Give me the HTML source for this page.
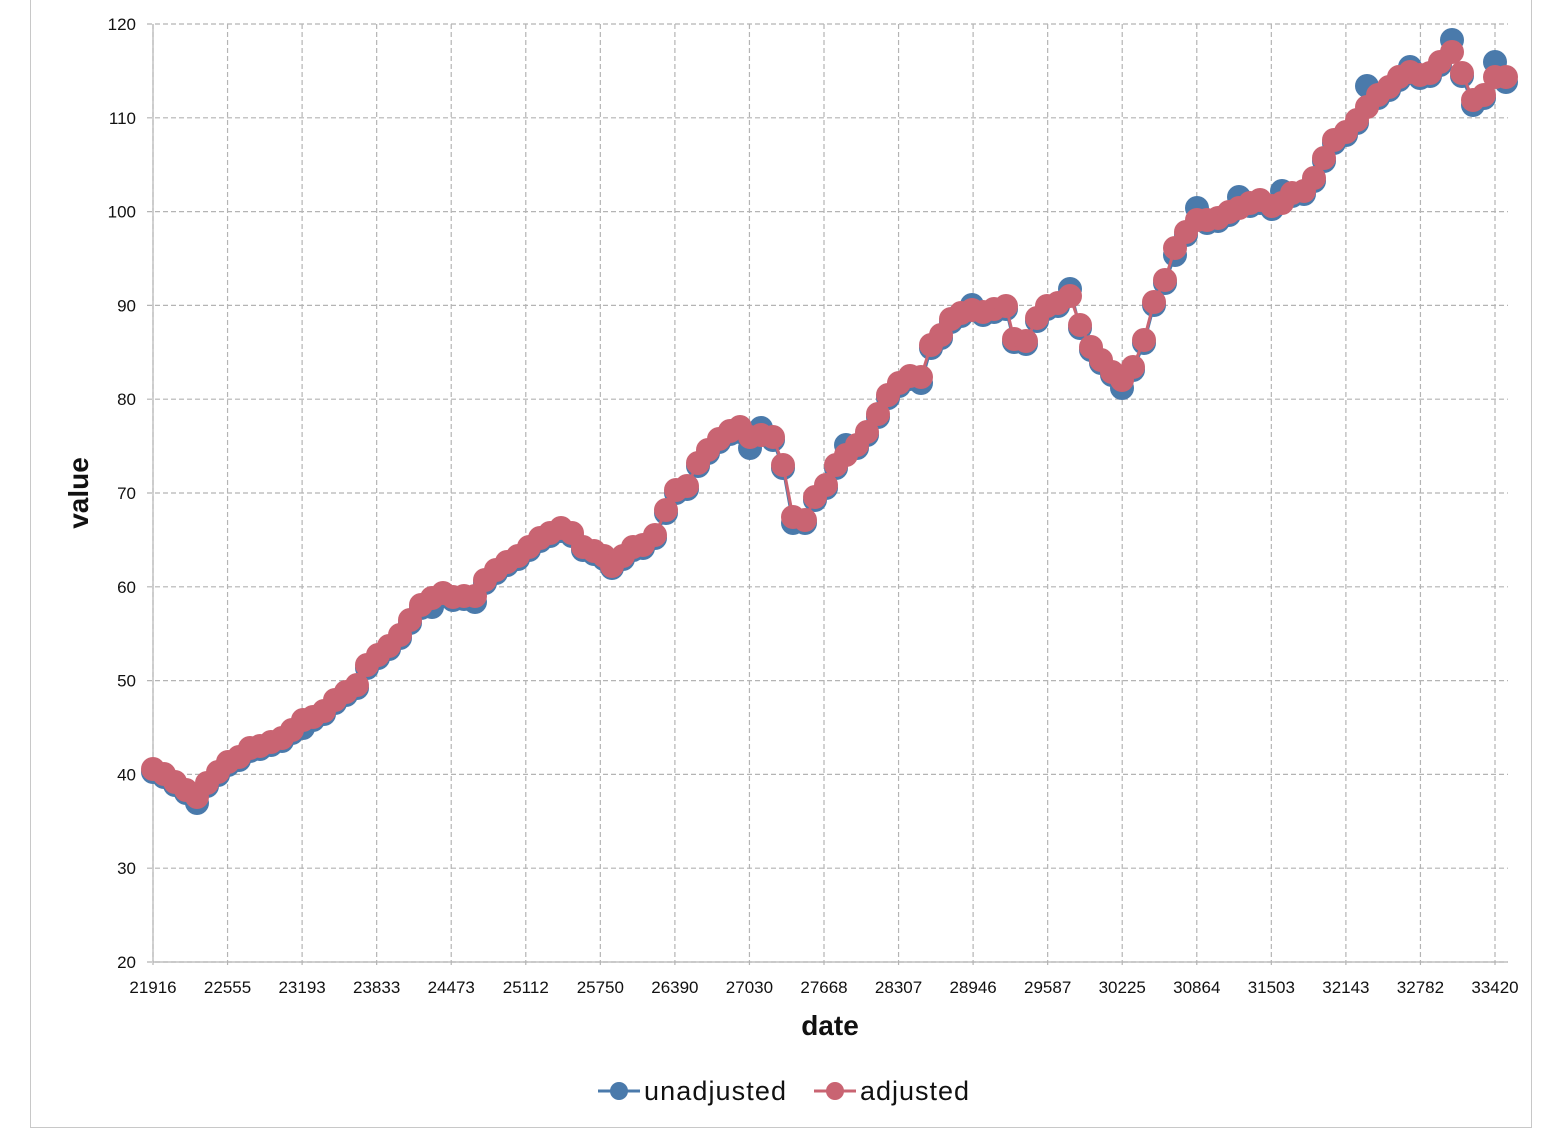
<!DOCTYPE html>
<html><head><meta charset="utf-8"><style>
html,body{margin:0;padding:0;background:#fff;}
svg{display:block;font-family:"Liberation Sans",Arial,sans-serif;}
</style></head><body>
<svg id="s" width="1562" height="1129" viewBox="0 0 1562 1129" xmlns="http://www.w3.org/2000/svg">
<rect x="30.5" y="-1" width="1501" height="1128.5" fill="#fff" stroke="#c8c8c8" stroke-width="1"/>
<g id="grid" stroke="#b4b4b4" stroke-width="1.2" stroke-dasharray="5,3" fill="none"></g>
<g id="ticks" font-size="17" fill="#111"></g>
<text x="830" y="1035" font-size="28" font-weight="bold" text-anchor="middle" fill="#111">date</text>
<text transform="translate(88,493) rotate(-90)" font-size="28" font-weight="bold" text-anchor="middle" fill="#111">value</text>
<g id="series"></g>
<g font-size="27" fill="#111">
<line x1="598" y1="1091" x2="640" y2="1091" stroke="#4a7aab" stroke-width="3"/>
<circle cx="619" cy="1091" r="9" fill="#4a7aab"/>
<text x="644" y="1100" textLength="142">unadjusted</text>
<line x1="814" y1="1091" x2="856" y2="1091" stroke="#c96472" stroke-width="3"/>
<circle cx="835" cy="1091" r="9" fill="#c96472"/>
<text x="860" y="1100" textLength="109">adjusted</text>
</g>
</svg>
<script>
var NS="http://www.w3.org/2000/svg";
function el(t,a,p){var e=document.createElementNS(NS,t);for(var k in a)e.setAttribute(k,a[k]);p.appendChild(e);return e;}
var g=document.getElementById("grid"),tk=document.getElementById("ticks");
var x0=153,x1=1508,y0=24,y1=962;
for(var i=0;i<=10;i++){var y=y1-(y1-y0)*i/10;
 el("line",{x1:x0-6,y1:y,x2:x1,y2:y},g);
 var t=el("text",{x:136,y:y+6,"text-anchor":"end"},tk);t.textContent=20+i*10;}
var labs=[21916,22555,23193,23833,24473,25112,25750,26390,27030,27668,28307,28946,29587,30225,30864,31503,32143,32782,33420];
for(var i=0;i<labs.length;i++){var x=153+i*(1495-153)/18;
 el("line",{x1:x,y1:y0,x2:x,y2:y1+6},g);
 var t=el("text",{x:x,y:993,"text-anchor":"middle"},tk);t.textContent=labs[i];}
el("line",{x1:x0,y1:y0,x2:x0,y2:y1,stroke:"#b4b4b4","stroke-dasharray":"none"},g);
el("line",{x1:x0,y1:y1,x2:x1,y2:y1,stroke:"#b4b4b4","stroke-dasharray":"none"},g);
var A=[[153,769],[164,774],[175,782],[186,790],[197,797],[207,783],[218,772],[228,762],[239,757],[250,748],[260,746],[271,742],[282,738],[292,730],[303,720],[313,717],[324,711],[335,700],[346,692],[357,685],[367,665],[378,655],[389,646],[400,635],[410,620],[421,605],[432,598],[443,593],[453,597],[464,596],[475,596],[485,580],[496,570],[507,562],[518,556],[529,547],[540,538],[550,533],[561,528],[572,533],[583,547],[594,551],[604,556],[612,566],[623,556],[633,547],[643,545],[655,535],[666,510],[676,490],[687,486],[698,463],[708,450],[719,439],[730,431],[740,427],[750,437],[761,435],[773,437],[783,465],[793,517],[805,520],[815,497],[826,485],[836,465],[846,455],[857,445],[867,432],[878,414],[888,395],[899,383],[910,376],[921,377],[931,345],[941,335],[951,319],[961,313],[972,310],[983,312],[994,309],[1006,306],[1014,339],[1026,341],[1037,318],[1047,306],[1058,303],[1070,296],[1080,325],[1091,347],[1101,360],[1112,372],[1122,380],[1133,367],[1144,340],[1154,302],[1165,280],[1175,248],[1186,232],[1197,220],[1207,220],[1218,218],[1229,212],[1239,208],[1250,203],[1260,200],[1272,206],[1282,203],[1292,193],[1304,191],[1314,178],[1324,158],[1334,140],[1346,132],[1357,120],[1367,107],[1378,95],[1389,87],[1399,77],[1410,72],[1420,75],[1430,73],[1440,62],[1452,52],[1462,73],[1473,100],[1484,95],[1495,77],[1506,77]];
var over={1452:40,1495:62,1506:82,1473:105,1367:86,1197:208,1239:197,1282:191,1070:289,793:523,750:448,761:428,921:383,972:305,1122:388,1175:255,1410:67,197:803,612:568,475:602,432:607,303:728,740:432,846:445};
var U=A.map(function(p){return [p[0], over[p[0]]!==undefined?over[p[0]]:p[1]+3];});
var s=document.getElementById("series");
function draw(P,c){el("polyline",{points:P.map(function(p){return p.join(",")}).join(" "),fill:"none",stroke:c,"stroke-width":3},s);
 P.forEach(function(p){el("circle",{cx:p[0],cy:p[1],r:12,fill:c},s);});}
draw(U,"#4a7aab");draw(A,"#c96472");
</script>
</body></html>
